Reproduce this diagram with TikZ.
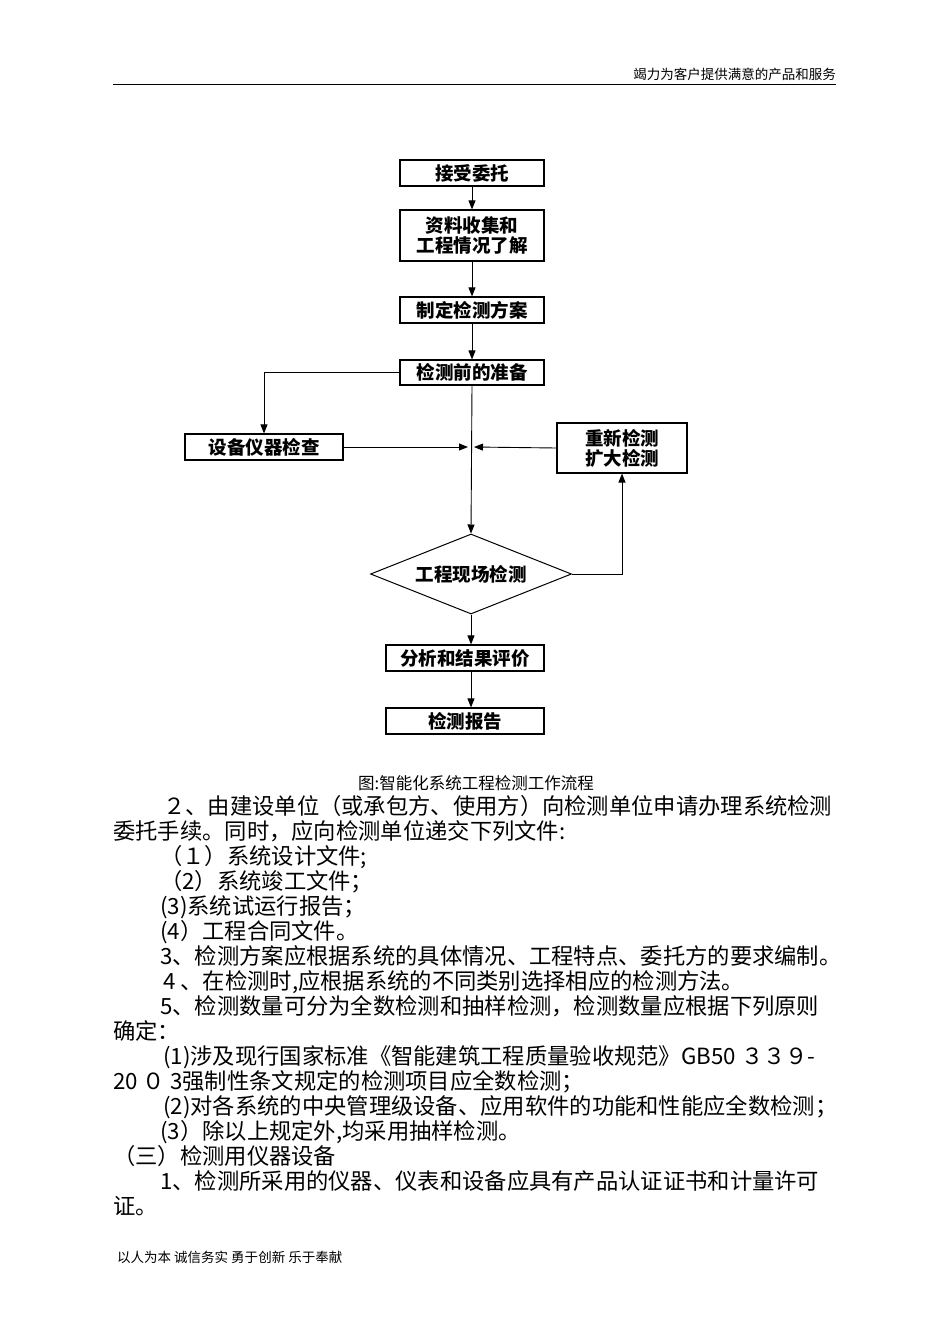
\documentclass[tikz,border=0pt]{standalone}
\usepackage{fontspec}
\setmainfont{Noto Sans CJK SC}
\usetikzlibrary{shapes.geometric,arrows.meta}
\begin{document}
\begin{tikzpicture}[x=1pt,y=-1pt,
  bx/.style={draw,line width=1.2pt,inner sep=0pt,font=\fontsize{18.5}{19}\selectfont\bfseries,align=center},
  ar/.style={-{Triangle[length=9pt,width=7pt]},line width=0.9pt},
  ln/.style={line width=0.9pt},
  bt/.style={anchor=base west,inner sep=0pt,font=\fontsize{22.3}{23}\selectfont}]
\useasboundingbox (0,0) rectangle (950,1344);
\node[anchor=base east,inner sep=0pt,font=\fontsize{13.5}{14}\selectfont] (hd) at (836,79) {竭力为客户提供满意的产品和服务};
\draw[line width=1pt] (113,84) -- (836,84);
\node[bx,minimum width=144,minimum height=26] (a) at (472,173) {接受委托};
\node[bx,minimum width=144,minimum height=51,font=\fontsize{18.5}{20}\selectfont\bfseries] (b) at (472,235.5) {资料收集和\\工程情况了解};
\node[bx,minimum width=144,minimum height=26] (c) at (472,310) {制定检测方案};
\node[bx,minimum width=144,minimum height=25] (d) at (472,372.5) {检测前的准备};
\node[bx,minimum width=158,minimum height=26] (e) at (264,447) {设备仪器检查};
\node[bx,minimum width=130,minimum height=50,font=\fontsize{18.5}{20}\selectfont\bfseries] (f) at (622,448) {重新检测\\扩大检测};
\node[diamond,draw,line width=1pt,minimum width=201,minimum height=80,inner sep=0pt,aspect=2.5,font=\fontsize{18.5}{19}\selectfont\bfseries] (g) at (471,574) {工程现场检测};
\node[bx,minimum width=158,minimum height=26] (h) at (465,658) {分析和结果评价};
\node[bx,minimum width=158,minimum height=26] (i) at (465,721) {检测报告};
\coordinate (m) at (471,447);
\draw[ar] (a.south) -- (b.south|-b.north);
\draw[ar] (b.south) -- (c.north);
\draw[ar] (c.south) -- (d.north);
\draw[ar] (d.south) -- (g.north);
\draw[ar] (d.west) -| (e.north);
\draw[ar] (e.east) -- ([xshift=-3]m);
\draw[ar] (f.west) -- ([xshift=3]m);
\draw[ar] (g.east) -| (f.south);
\draw[ar] (g.south) -- (g.south|-h.north);
\draw[ar] (h.south-|g.south) -- (g.south|-i.north);
\node[anchor=base,inner sep=0pt,font=\fontsize{16.5}{17}\selectfont] (cap) at (476,789) {图:智能化系统工程检测工作流程};
\node[bt] (t1) at (163,814) {２、由建设单位（或承包方、使用方）向检测单位申请办理系统检测};
\node[bt] (t2) at (113,839) {委托手续。同时，应向检测单位递交下列文件:};
\node[bt] (t3) at (160,864) {（１）系统设计文件;};
\node[bt] (t4) at (160,889) {（2）系统竣工文件；};
\node[bt] (t5) at (160,914) {(3)系统试运行报告；};
\node[bt] (t6) at (160,939) {(4）工程合同文件。};
\node[bt] (t7) at (160,964) {3、检测方案应根据系统的具体情况、工程特点、委托方的要求编制。};
\node[bt] (t8) at (163,989) {4 、在检测时,应根据系统的不同类别选择相应的检测方法。};
\node[bt] (t9) at (160,1014) {5、检测数量可分为全数检测和抽样检测，检测数量应根据下列原则};
\node[bt] (t10) at (113,1039) {确定：};
\node[bt] (t11) at (163,1064) {(1)涉及现行国家标准《智能建筑工程质量验收规范》GB50 ３３９-};
\node[bt] (t12) at (113,1089) {20 ０ 3强制性条文规定的检测项目应全数检测；};
\node[bt] (t13) at (163,1114) {(2)对各系统的中央管理级设备、应用软件的功能和性能应全数检测；};
\node[bt] (t14) at (160,1139) {(3）除以上规定外,均采用抽样检测。};
\node[bt] (t15) at (113,1164) {（三）检测用仪器设备};
\node[bt] (t16) at (160,1189) {1、检测所采用的仪器、仪表和设备应具有产品认证证书和计量许可};
\node[bt] (t17) at (113,1214) {证。};
\node[anchor=base west,inner sep=0pt,font=\fontsize{13.5}{14}\selectfont] (ft) at (117,1262) {以人为本 诚信务实 勇于创新 乐于奉献};
\end{tikzpicture}
\end{document}
